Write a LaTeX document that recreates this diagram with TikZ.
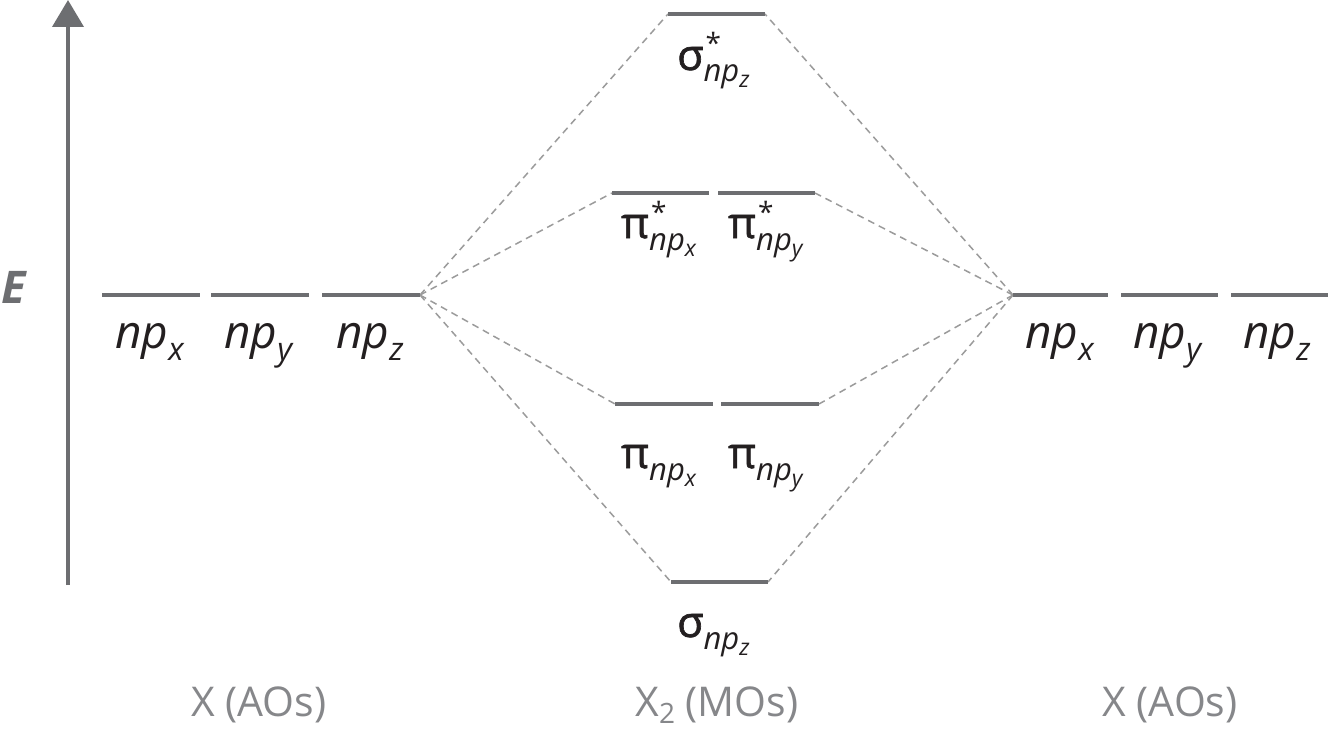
\documentclass[tikz,border=0pt]{standalone}
\usepackage{fontspec}
\setmainfont{Open Sans}
\newfontfamily\grkf[FakeBold=1.5]{Open Sans}
\usetikzlibrary{arrows.meta}
\definecolor{lvl}{HTML}{6D6E71}
\definecolor{dsh}{HTML}{9B9B9B}
\definecolor{txt}{HTML}{231F20}
\definecolor{capc}{HTML}{86878A}
\newcommand\npl[1]{{\fontsize{46}{46}\selectfont\itshape np\raisebox{-12pt}{\fontsize{32}{32}\selectfont #1}}}
\newcommand\molab[3]{{\grkf\fontsize{43}{43}\selectfont #1}#2\raisebox{-12pt}{\fontsize{31}{31}\selectfont\itshape np\raisebox{-6pt}{\fontsize{23}{23}\selectfont #3}}}
\newcommand\strx{\rlap{\kern2pt\raisebox{16pt}{\fontsize{28}{28}\selectfont *}}}
\begin{document}
\begin{tikzpicture}[x=1pt,y=-1pt,
  lvlline/.style={draw=lvl,line width=4pt},
  conn/.style={draw=dsh,line width=1.5pt,dash pattern=on 7pt off 5pt},
  lab/.style={anchor=base west,inner sep=0pt,text=txt},
  caplab/.style={anchor=base,inner sep=0pt,text=capc,font=\fontsize{41}{41}\selectfont}]
\useasboundingbox (0,0) rectangle (1330,741);
% energy axis
\coordinate (axB) at (68,585);
\coordinate (axT) at (68,0);
\draw[draw=lvl,line width=4pt,-{Triangle[width=31pt,length=27pt]}] (axB) -- (axT);
\node[anchor=base west,inner sep=0pt,text=lvl,font=\fontsize{45}{45}\selectfont\bfseries\itshape] (elab) at (1,303) {E};
% level end coordinates
\coordinate (Lx1) at (102,295); \coordinate (Lx2) at (200,295);
\coordinate (Ly1) at (211,295); \coordinate (Ly2) at (309,295);
\coordinate (Lz1) at (322,295); \coordinate (Lz2) at (420,295);
\coordinate (Rx1) at (1013,295); \coordinate (Rx2) at (1108,295);
\coordinate (Ry1) at (1121,295); \coordinate (Ry2) at (1218,295);
\coordinate (Rz1) at (1231,295); \coordinate (Rz2) at (1328,295);
\coordinate (ss1) at (668,14); \coordinate (ss2) at (765,14);
\coordinate (pxs1) at (612,193); \coordinate (pxs2) at (709,193);
\coordinate (pys1) at (718,193); \coordinate (pys2) at (815,193);
\coordinate (px1) at (615,404); \coordinate (px2) at (713,404);
\coordinate (py1) at (721,404); \coordinate (py2) at (819,404);
\coordinate (s1) at (671,582); \coordinate (s2) at (768,582);
% correlation lines
\draw[conn] (Lz2) -- (ss1);
\draw[conn] (Lz2) -- (pxs1);
\draw[conn] (Lz2) -- (px1);
\draw[conn] (Lz2) -- (s1);
\draw[conn] (Rx1) -- (ss2);
\draw[conn] (Rx1) -- (pys2);
\draw[conn] (Rx1) -- (py2);
\draw[conn] (Rx1) -- (s2);
% levels
\foreach \a in {Lx,Ly,Lz,Rx,Ry,Rz,ss,pxs,pys,px,py,s}{\draw[lvlline] (\a1) -- (\a2);}
% AO labels
\node[lab] (tLx) at (115,348) {\npl{x}};
\node[lab] (tLy) at (224,348) {\npl{y}};
\node[lab] (tLz) at (336,348) {\npl{z}};
\node[lab] (tRx) at (1025,348) {\npl{x}};
\node[lab] (tRy) at (1133,348) {\npl{y}};
\node[lab] (tRz) at (1243,348) {\npl{z}};
% MO labels
\node[lab] (tss) at (677,70) {\molab{σ}{\strx}{z}};
\node[lab] (tpxs) at (621,238) {\molab{π}{\strx}{x}};
\node[lab] (tpys) at (728,238) {\molab{π}{\strx}{y}};
\node[lab] (tpx) at (621,468) {\molab{π}{}{x}};
\node[lab] (tpy) at (728,468) {\molab{π}{}{y}};
\node[lab] (ts) at (677,637) {\molab{σ}{}{z}};
% captions
\node[caplab] (cL) at (259,716) {X (AOs)};
\node[caplab] (cM) at (717,716) {X\raisebox{-7pt}{\fontsize{28}{28}\selectfont 2} (MOs)};
\node[caplab] (cR) at (1170,716) {X (AOs)};
\end{tikzpicture}
\end{document}
